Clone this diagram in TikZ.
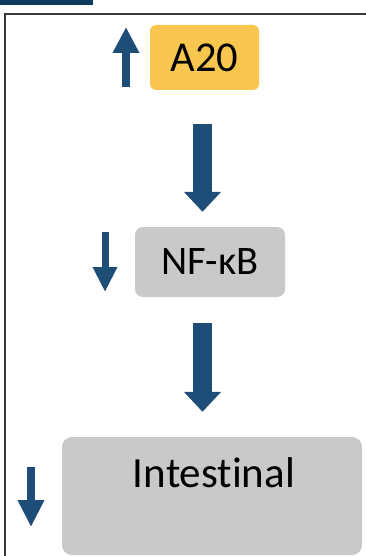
\documentclass[tikz,border=0pt]{standalone}
\usepackage{fontspec}
\setmainfont{Carlito}[Ligatures=NoCommon]
\usetikzlibrary{arrows.meta}
\definecolor{arrowblue}{HTML}{1E4D78}
\definecolor{barblue}{HTML}{0E3A5C}
\definecolor{a20fill}{HTML}{F9C74F}
\definecolor{boxgray}{HTML}{C9C9C9}
\definecolor{framegray}{HTML}{3A3A3A}
\tikzset{
  yellowbox/.style={fill=a20fill, rounded corners=6pt, inner sep=0pt},
  graybox/.style={fill=boxgray, rounded corners=8pt, inner sep=0pt},
  bigarrow/.style={draw=arrowblue, line width=19pt, -{Triangle[width=36pt,length=20pt]}},
  sidearrow/.style={draw=arrowblue, line width=8pt, -{Triangle[width=25pt,length=26pt]}},
}
\begin{document}
\begin{tikzpicture}[x=1pt,y=-1pt]
\useasboundingbox (0,0) rectangle (366,556);
% top bar and frame
\fill[barblue] (0,0) rectangle (93,5);
\draw[framegray, line width=1.5pt] (4.9,556) -- (4.9,13.8) -- (366,13.8);
% nodes
\node[yellowbox, minimum width=109pt, minimum height=65pt, font=\fontsize{42.5}{48}\selectfont] (a20) at (204.5,57.5) {A20};
\node[graybox, minimum width=150pt, minimum height=70pt, font=\fontsize{40.5}{46}\selectfont] (nfkb) at (210,262) {NF-κB};
\node[graybox, rounded corners=10pt, minimum width=300pt, minimum height=118pt,
  label={[anchor=base, yshift=-51pt, xshift=2pt, font=\fontsize{43}{48}\selectfont]north:Intestinal}] (intest) at (212,496) {};
% axis for big arrows
\coordinate (ax) at (202.5,0);
\draw[bigarrow, shorten <=34pt, shorten >=15pt] (a20.south -| ax) -- (nfkb.north -| ax);
\draw[bigarrow, shorten <=26pt, shorten >=25pt] (nfkb.south -| ax) -- (intest.north -| ax);
% side indicator arrows
\coordinate (u1) at (126,87);
\coordinate (u2) at (126,27);
\draw[sidearrow] (u1) -- (u2);
\coordinate (d1) at (105,232);
\coordinate (d2) at (105,292);
\draw[sidearrow, line width=7pt, -{Triangle[width=23pt,length=25pt]}] (d1) -- (d2);
\coordinate (i1) at (31,467);
\coordinate (i2) at (31,527);
\draw[sidearrow, -{Triangle[width=25pt,length=27pt]}] (i1) -- (i2);
\end{tikzpicture}
\end{document}
